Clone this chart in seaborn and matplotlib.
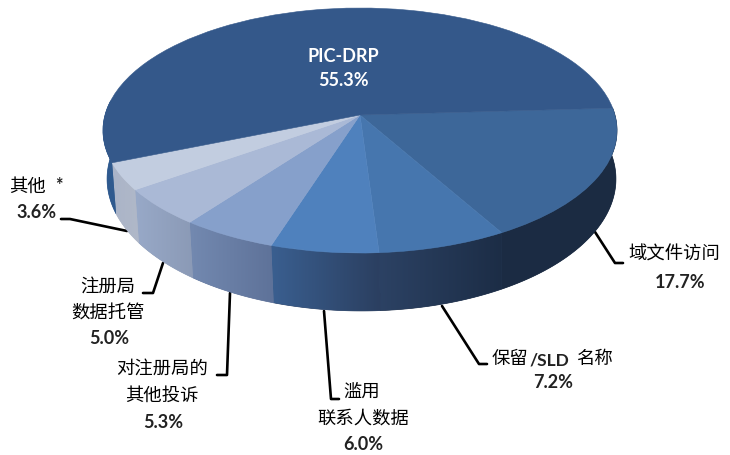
"""3D-looking pie of complaint categories, drawn from a tilted seaborn/matplotlib pie."""
import matplotlib
matplotlib.use("Agg")
import matplotlib.pyplot as plt
import matplotlib.transforms as mtransforms
import numpy as np
import seaborn as sns
from matplotlib.patches import Polygon

# slices, clockwise from the right-hand edge
categories = ["域文件访问", "保留/SLD 名称", "滥用联系人数据", "对注册局的其他投诉", "注册局数据托管", "其他 *", "PIC-DRP"]
shares = [17.7, 7.2, 6.0, 5.3, 5.0, 3.6, 55.3]
pct_labels = ["17.7%", "7.2%", "6.0%", "5.3%", "5.0%", "3.6%", "55.3%"]

top_colors = ["#3d6799", "#4676ae", "#4f81bd", "#86a0cb", "#aab9d6", "#c2cde0", "#34588a"]
wall_left = ["#1c2c44", "#2c4264", "#3a5f90", "#7389b0", "#98a9c8", "#aab4c8", "#2f5a8f"]
wall_right = ["#1b2b42", "#1c2d46", "#2b3f60", "#5e7299", "#8b9ab6", "#b0b8c8", "#2f5a8f"]

START_ANGLE = 3.3
CX, CY = 360.0, 130.5     # centre of the top ellipse, pixels
RX, RY = 257.0, 122.5
APEX_UP = 15.5            # the pie's apex sits above the ellipse centre
K = APEX_UP / RY
C = RX * np.sqrt(1 - K ** 2)


def project_top(u, v):
    w = 1 + K * v
    return CX + C * u / w, CY - (RY * v + APEX_UP) / w


def project_bottom(u, v):
    x, y = project_top(u, v)
    up = CY - y
    return CX + 1.5 + 0.99 * (x - CX), y + 48.5 - 0.077 * up


class TiltTransform(mtransforms.Transform):
    input_dims = 2
    output_dims = 2

    def transform_non_affine(self, values):
        values = np.asarray(values)
        x, y = project_top(values[:, 0], values[:, 1])
        return np.column_stack([x, y])


def draw_walls(ax, wedges):
    for wedge, c_left, c_right in zip(wedges, wall_left, wall_right):
        # walk down from the high angle, stop where the wall goes behind the top face
        t = np.radians(np.linspace(wedge.theta2, wedge.theta1, 200))
        hidden = np.sin(t) > 0.12
        if hidden.any():
            t = t[:np.argmax(hidden)]
        u, v = np.cos(t), np.sin(t)
        xt, yt = project_top(u, v)
        xb, yb = project_bottom(u, v)
        outline = np.column_stack([np.r_[xt, xb[::-1]], np.r_[yt, yb[::-1]]])
        edge = Polygon(outline, closed=True, facecolor=c_left, edgecolor=c_right, lw=0.5, zorder=1)
        ax.add_patch(edge)
        cmap = sns.blend_palette([c_left, c_right], 64, as_cmap=True)
        im = ax.imshow(np.linspace(0, 1, 256).reshape(1, -1), cmap=cmap, aspect="auto", zorder=1.5,
                       extent=(outline[:, 0].min(), outline[:, 0].max(),
                               outline[:, 1].max(), outline[:, 1].min()))
        im.set_clip_path(Polygon(outline, closed=True, transform=ax.transData))


sns.set_theme(style="white")
CJK = "Noto Sans CJK SC"
LATIN = "Lato"

fig = plt.figure(figsize=(7.3, 4.55), dpi=100)
ax = fig.add_axes([0, 0, 1, 1])
wedges, _ = ax.pie(shares, colors=top_colors, startangle=START_ANGLE, counterclock=False,
                   wedgeprops={"linewidth": 0.4})
tilt = TiltTransform()
for wedge, col in zip(wedges, top_colors):
    wedge.set_transform(tilt + ax.transData)
    wedge.set_edgecolor(col)
    wedge.set_zorder(3)
draw_walls(ax, wedges)

ax.set_aspect("auto")
ax.set_xlim(0, 730)
ax.set_ylim(455, 0)
ax.axis("off")

# leader lines
leaders = [
    [(595, 232), (615, 263), (623, 263)],
    [(442, 306), (479, 364), (487, 364)],
    [(324, 311), (331, 399), (339, 399)],
    [(230, 293), (227, 375), (217, 375)],
    [(163, 263), (153, 293), (143, 293)],
    [(127, 231), (70, 219), (61, 219)],
]
for pts in leaders:
    xs, ys = zip(*pts)
    ax.plot(xs, ys, color="black", lw=1.9, solid_joinstyle="round", zorder=0.5)


def cjk(x, y, s, **kw):
    ax.text(x, y, s, family=CJK, fontsize=13.2, fontweight=500, color="#000000",
            ha=kw.pop("ha", "center"), va="center", **kw)


def pct(x, y, s, color="#222222"):
    ax.text(x, y, s, family=LATIN, fontsize=13, fontweight="bold", color=color, ha="center", va="center")


cjk(674, 255, "域文件访问")
pct(680, 283, pct_labels[0])

cjk(492, 359, "保留", ha="left")
ax.text(529, 360, "/SLD", family=LATIN, fontsize=12.5, fontweight="bold", color="#222222", ha="left", va="center")
cjk(576, 359, "名称", ha="left")
pct(553, 383, pct_labels[1])

cjk(362, 392, "滥用")
cjk(363, 419, "联系人数据")
pct(363, 445, pct_labels[2])

cjk(162, 369, "对注册局的")
cjk(162, 396, "其他投诉")
pct(163, 422, pct_labels[3])

cjk(108, 287, "注册局")
cjk(108, 314, "数据托管")
pct(109, 339, pct_labels[4])

cjk(28, 187, "其他")
pct(59, 186, "*")
pct(37, 213, pct_labels[5])

ax.text(343, 56, "PIC-DRP", family=LATIN, fontsize=13, fontweight="bold", color="white", ha="center", va="center", zorder=5)
pct(343, 81, pct_labels[6], color="white")
ax.texts[-1].set_zorder(5)

fig.savefig("out.png", dpi=100)
